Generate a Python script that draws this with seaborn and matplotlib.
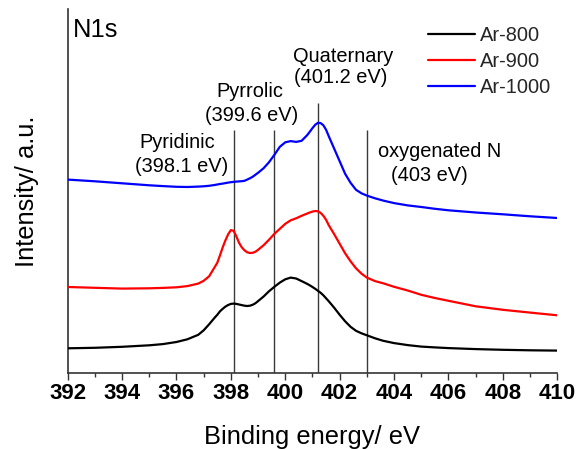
import matplotlib
matplotlib.use("Agg")
import matplotlib.pyplot as plt
from matplotlib.ticker import MultipleLocator
import pandas as pd
import seaborn as sns

# N 1s XPS spectra, binding energy (eV) vs. intensity (a.u., stacked offsets)
energy = [392.0, 393.0, 394.0, 395.0, 395.5, 396.0, 396.4, 396.8, 397.0, 397.2,
          397.4, 397.5, 397.6, 397.7, 397.8, 397.9, 398.0, 398.1, 398.2, 398.3,
          398.4, 398.5, 398.6, 398.7, 398.8, 398.9, 399.0, 399.2, 399.4, 399.6,
          399.8, 400.0, 400.2, 400.4, 400.6, 400.8, 400.9, 401.0, 401.1, 401.2,
          401.3, 401.4, 401.5, 401.6, 401.8, 402.0, 402.2, 402.4, 402.6, 402.8,
          403.0, 403.3, 403.6, 404.0, 404.5, 405.0, 405.5, 406.0, 407.0, 408.0,
          409.0, 410.0]

ar800 = [25.0, 25.5, 26.5, 28.0, 29.2, 31.3, 34.0, 38.5, 43.0, 49.0,
         55.5, 58.5, 62.0, 64.5, 66.7, 68.3, 69.4, 69.7, 69.4, 68.8,
         68.2, 67.6, 67.3, 67.6, 68.5, 70.0, 72.2, 76.7, 82.0, 86.5,
         90.7, 94.0, 95.7, 94.8, 92.2, 89.5, 88.0, 86.3, 84.5, 82.5,
         80.5, 78.0, 75.0, 72.0, 65.5, 58.5, 52.0, 46.5, 42.5, 40.0,
         38.0, 35.0, 32.5, 30.2, 28.2, 26.7, 25.9, 25.2, 24.2, 23.5,
         23.0, 22.7]

ar900 = [86.3, 85.5, 84.7, 85.0, 85.4, 86.0, 87.2, 89.7, 92.5, 97.0,
         106.0, 110.5, 118.0, 126.0, 133.0, 139.0, 143.2, 142.5, 137.0, 130.5,
         126.0, 123.0, 121.0, 120.3, 120.5, 121.5, 123.5, 128.0, 133.5, 139.5,
         144.5, 149.5, 153.0, 155.0, 157.5, 159.7, 160.8, 161.7, 162.3, 162.0,
         160.4, 157.5, 153.5, 148.0, 139.0, 129.5, 120.0, 112.0, 105.0, 99.7,
         95.7, 92.2, 90.0, 86.5, 82.8, 78.5, 75.3, 72.5, 67.0, 63.5,
         60.7, 58.0]

ar1000 = [193.7, 192.0, 190.0, 188.0, 187.2, 186.5, 186.3, 186.7, 187.0, 187.5,
          188.3, 188.8, 189.3, 189.7, 190.2, 190.7, 191.1, 191.4, 191.7, 191.9,
          192.1, 192.5, 193.7, 195.0, 196.5, 198.5, 200.5, 205.0, 211.0, 218.5,
          226.5, 231.0, 232.2, 231.4, 232.5, 238.0, 241.5, 245.2, 248.5, 250.5,
          250.2, 248.0, 243.5, 237.0, 224.5, 212.0, 199.5, 190.5, 183.5, 180.0,
          177.7, 175.0, 172.7, 170.2, 167.9, 166.3, 164.5, 163.0, 160.8, 159.0,
          157.0, 155.3]

samples = ["Ar-800", "Ar-900", "Ar-1000"]
sample_colors = ["#000000", "#ff0000", "#0000ff"]

# N species reference energies and their labels
peak_energy = [398.1, 399.6, 401.2, 403.0]
peak_names = ["Pyridinic", "Pyrrolic", "Quaternary", "oxygenated N"]
peak_values = ["(398.1 eV)", "(399.6 eV)", "(401.2 eV)", "(403 eV)"]

x_ticks = [392, 394, 396, 398, 400, 402, 404, 406, 408, 410]

df = pd.DataFrame({
    "energy": energy * 3,
    "intensity": ar800 + ar900 + ar1000,
    "sample": [s for s in samples for _ in energy],
})

sns.set_theme(style="ticks")
plt.rcParams["font.family"] = ["Liberation Sans", "DejaVu Sans"]

fig = plt.figure(figsize=(5.76, 4.49), dpi=100)
ax = fig.add_axes([0.1175, 0.1686, 0.85, 0.8107])

# reference lines for the nitrogen species (drawn behind the spectra)
line_tops = [243.0, 243.0, 270.6, 243.0]
ax.vlines(peak_energy, 0, line_tops, colors="#3a3a3a", linewidth=1.0, zorder=1)

sns.lineplot(data=df, x="energy", y="intensity", hue="sample",
             hue_order=samples, palette=sample_colors, estimator=None,
             linewidth=1.6, ax=ax, zorder=3)

ax.set_xlim(392, 410)
ax.set_ylim(0, 364)
ax.set_xticks(x_ticks)
ax.xaxis.set_minor_locator(MultipleLocator(1))
ax.set_yticks([])

for side in ("top", "right"):
    ax.spines[side].set_visible(False)
for side in ("left", "bottom"):
    ax.spines[side].set_color("#333333")
    ax.spines[side].set_linewidth(1.2)

ax.tick_params(axis="x", which="major", direction="out", length=4.8, width=1.0,
               color="#333333", pad=2.5, labelsize=16, labelcolor="black")
ax.tick_params(axis="x", which="minor", direction="out", length=2.9, width=1.0,
               color="#333333")
for lbl in ax.get_xticklabels():
    lbl.set_fontweight("bold")

ax.set_xlabel("Binding energy/ eV", fontsize=18.4, color="black", labelpad=15)
ax.set_ylabel("Intensity/ a.u.", fontsize=18.4, color="black", labelpad=21)

# species annotations
name_pos = [(396.04, 225.0), (398.70, 276.6), (402.12, 311.6), (405.69, 216.0)]
value_pos = [(396.19, 200.8), (398.78, 252.5), (402.02, 290.2), (405.28, 192.5)]
for name, (nx, ny), value, (vx, vy) in zip(peak_names, name_pos, peak_values, value_pos):
    ax.text(nx, ny, name, fontsize=14.4, ha="center", va="baseline", color="black")
    ax.text(vx, vy, value, fontsize=14.4, ha="center", va="baseline", color="black")

ax.text(0.0114, 0.9247, "N1s", transform=ax.transAxes, fontsize=18.4,
        ha="left", va="baseline", color="black")

sns.move_legend(ax, "upper left", bbox_to_anchor=(0.7365, 0.9545), frameon=False,
                title=None, fontsize=14.4, handlelength=2.33, handletextpad=0.25,
                labelspacing=0.365, borderpad=0, borderaxespad=0)

fig.savefig("out.png", dpi=100)
